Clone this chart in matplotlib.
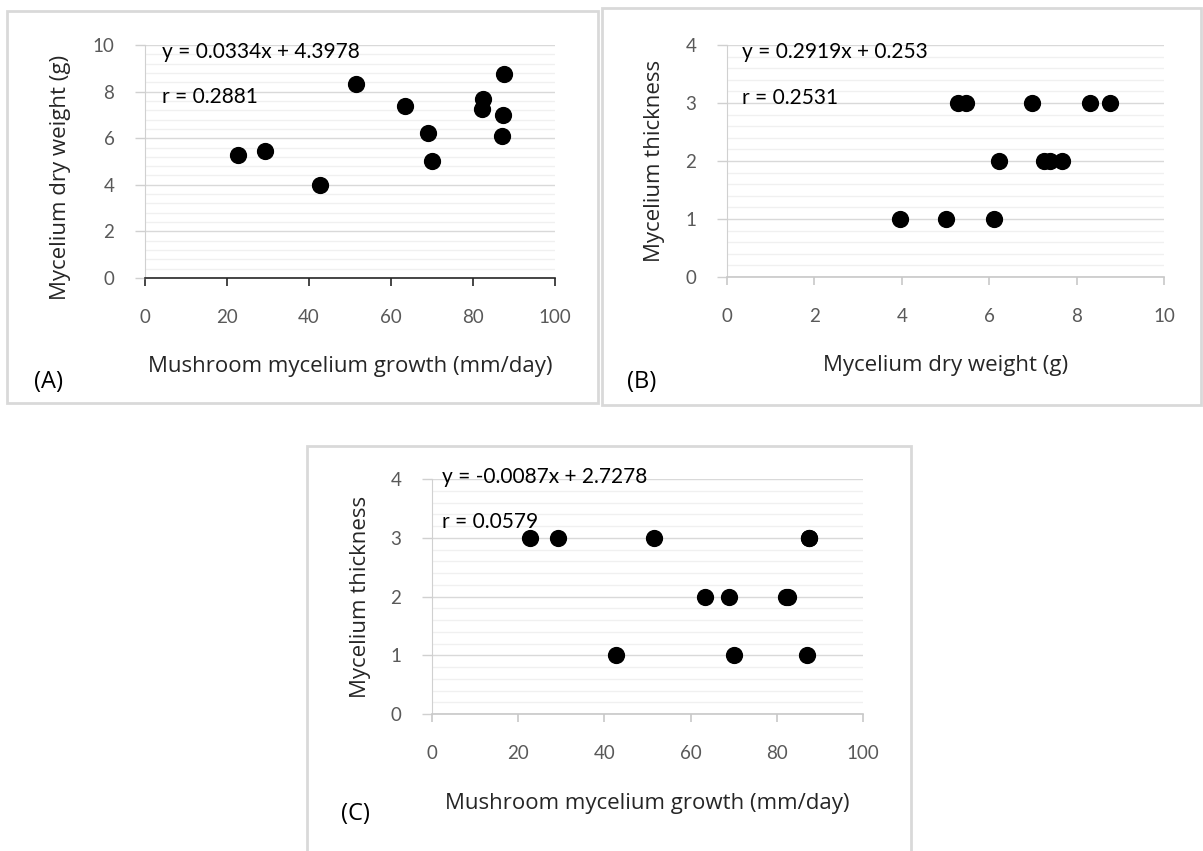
import numpy as np
import matplotlib
matplotlib.use("Agg")
import matplotlib.pyplot as plt
from matplotlib.patches import Rectangle
from matplotlib.ticker import MultipleLocator

plt.rcParams['font.family'] = ['Lato', 'DejaVu Sans']

# data (12 samples)
growth = [22.8, 29.3, 42.7, 51.5, 63.3, 69.0, 70.0, 82.1, 82.5, 87.5, 87.4, 87.1]
dry_weight = [5.29, 5.46, 3.97, 8.31, 7.39, 6.23, 5.01, 7.26, 7.67, 8.76, 6.99, 6.11]
thickness = [3, 3, 1, 3, 2, 2, 1, 2, 2, 3, 3, 1]

eq_text = ["y = 0.0334x + 4.3978", "y = 0.2919x + 0.253", "y = -0.0087x + 2.7278"]
r_text = ["r = 0.2881", "r = 0.2531", "r = 0.0579"]
panel_tags = ["(A)", "(B)", "(C)"]
growth_label = "Mushroom mycelium growth (mm/day)"
weight_label = "Mycelium dry weight (g)"
thick_label = "Mycelium thickness"

LABEL_FONT = ['Open Sans', 'DejaVu Sans']

W, H = 1203, 851
fig = plt.figure(figsize=(W / 100, H / 100), dpi=100)


def px(x0, y0, x1, y1):
    # pixel box (top-left origin) -> figure fraction rect
    return [x0 / W, 1 - y1 / H, (x1 - x0) / W, (y1 - y0) / H]


# panel frames
for (x0, y0, x1, y1) in [(7, 11, 598, 403), (602, 8, 1201, 405), (307, 446, 911, 853)]:
    fig.patches.append(Rectangle((x0 / W, 1 - y1 / H), (x1 - x0) / W, (y1 - y0) / H,
                                 transform=fig.transFigure, fill=False,
                                 edgecolor='#d9d9d9', linewidth=2))


def style(ax, xmax, xstep, ymax, ystep, ysub, bottom_col):
    ax.set_xlim(0, xmax)
    ax.set_ylim(0, ymax)
    ax.xaxis.set_major_locator(MultipleLocator(xstep))
    ax.yaxis.set_major_locator(MultipleLocator(ystep))
    ax.yaxis.set_minor_locator(MultipleLocator(ysub))
    ax.grid(which='major', axis='y', color='#d9d9d9', linewidth=1)
    ax.grid(which='minor', axis='y', color='#f0f0f0', linewidth=1)
    ax.set_axisbelow(True)
    for s in ['top', 'right']:
        ax.spines[s].set_visible(False)
    ax.spines['left'].set_color('#d0d0d0')
    ax.spines['bottom'].set_color(bottom_col)
    ax.spines['bottom'].set_linewidth(1.2)
    ax.tick_params(axis='x', which='major', direction='out', length=6, width=1.2,
                   color=bottom_col, pad=16, labelsize=13.5, labelcolor='#595959')
    ax.tick_params(axis='y', which='major', direction='out', length=7, width=1,
                   color='#d0d0d0', pad=15, labelsize=13.5, labelcolor='#595959')
    ax.tick_params(axis='y', which='minor', length=0)


def panel(rect, x, y, xmax, xstep, ymax, ystep, ysub, bottom_col, xl, yl,
          ylab_pos, eq, r, eq_pos, tag, tag_pos):
    ax = fig.add_axes(px(*rect))
    style(ax, xmax, xstep, ymax, ystep, ysub, bottom_col)
    ax.scatter(x, y, s=130, color='black', zorder=3, clip_on=False)
    ax.set_xlabel(xl, fontsize=16, color='#262626', va='center', family=LABEL_FONT)
    ax.xaxis.set_label_coords(0.5, -0.38)
    ax.set_ylabel(yl, fontsize=16, color='#262626', va='center', family=LABEL_FONT)
    ax.yaxis.set_label_coords(*ylab_pos)
    ax.text(eq_pos[0], eq_pos[1], eq, transform=ax.transAxes, fontsize=15,
            va='center', ha='left', color='black')
    ax.text(eq_pos[0], eq_pos[2], r, transform=ax.transAxes, fontsize=15,
            va='center', ha='left', color='black')
    fig.text(tag_pos[0] / W, 1 - tag_pos[1] / H, tag, fontsize=17,
             va='center', ha='left', color='black', family=LABEL_FONT)
    return ax


panel((145, 45, 555, 278), growth, dry_weight, 100, 20, 10, 2, 0.4, '#262626',
      growth_label, weight_label, (-0.205, 0.43), eq_text[0], r_text[0],
      (0.041, 0.97, 0.777), panel_tags[0], (34, 382))
panel((727, 45, 1164, 277), dry_weight, thickness, 10, 2, 4, 1, 0.2, '#c8c8c8',
      weight_label, thick_label, (-0.165, 0.5), eq_text[1], r_text[1],
      (0.034, 0.97, 0.772), panel_tags[1], (627, 382))
panel((432, 479, 863, 714), growth, thickness, 100, 20, 4, 1, 0.2, '#c8c8c8',
      growth_label, thick_label, (-0.167, 0.5), eq_text[2], r_text[2],
      (0.023, 1.01, 0.817), panel_tags[2], (341, 814))

fig.savefig('out.png', dpi=100)
